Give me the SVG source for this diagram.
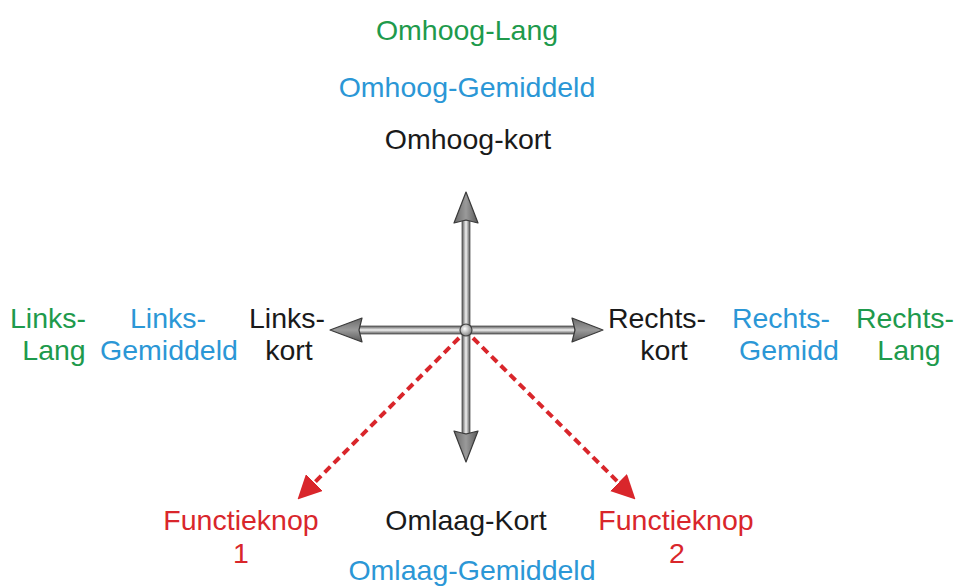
<svg xmlns="http://www.w3.org/2000/svg" width="964" height="587" viewBox="0 0 964 587">
<defs>
<style>
text{font-family:"Liberation Sans",Arial,sans-serif;font-size:28.5px;text-anchor:middle}
.g{fill:#1e9a4c}.b{fill:#2b97d6}.k{fill:#1a1a1a}.r{fill:#d9262b}
.head{stroke:#3a3a3a;stroke-width:1.2;stroke-linejoin:round}
.dash{stroke:#d9262b;stroke-width:4;stroke-dasharray:8 5;fill:none}
</style>
<linearGradient id="gv" x1="0" y1="0" x2="1" y2="0"><stop offset="0" stop-color="#555"/><stop offset="0.5" stop-color="#f2f2f2"/><stop offset="1" stop-color="#555"/></linearGradient>
<linearGradient id="gh" x1="0" y1="0" x2="0" y2="1"><stop offset="0" stop-color="#555"/><stop offset="0.5" stop-color="#f2f2f2"/><stop offset="1" stop-color="#555"/></linearGradient>
<linearGradient id="hv" x1="0" y1="0" x2="1" y2="0"><stop offset="0" stop-color="#6a6a6a"/><stop offset="0.5" stop-color="#9a9a9a"/><stop offset="1" stop-color="#5a5a5a"/></linearGradient>
<linearGradient id="hh" x1="0" y1="0" x2="0" y2="1"><stop offset="0" stop-color="#6a6a6a"/><stop offset="0.5" stop-color="#9a9a9a"/><stop offset="1" stop-color="#5a5a5a"/></linearGradient>
<radialGradient id="knob" cx="0.4" cy="0.4" r="0.6"><stop offset="0" stop-color="#fff"/><stop offset="1" stop-color="#888"/></radialGradient>
<marker id="ra" markerWidth="6" markerHeight="6" refX="3" refY="3" orient="auto" markerUnits="strokeWidth"><path d="M0,0 L6,3 L0,6 Z" fill="#d9262b"/></marker>
</defs>
<g id="connectors">
<rect x="462" y="220" width="8" height="214" fill="url(#gv)" stroke="#555" stroke-width="0.8"/>
<rect x="358" y="326" width="217" height="8" fill="url(#gh)" stroke="#555" stroke-width="0.8"/>
<polygon class="head" points="466,192 478,223 466,220 454,223" fill="url(#hv)"/>
<polygon class="head" points="466,462 478,431 466,434 454,431" fill="url(#hv)"/>
<polygon class="head" points="330,330 362,318 359,330 362,342" fill="url(#hh)"/>
<polygon class="head" points="603,330 572,318 575,330 572,342" fill="url(#hh)"/>
<circle cx="466" cy="330" r="6" fill="url(#knob)" stroke="#444" stroke-width="1.2"/>
<line class="dash" x1="459" y1="338" x2="306" y2="491" marker-end="url(#ra)"/>
<line class="dash" x1="473" y1="338" x2="627" y2="491" marker-end="url(#ra)"/>
</g>
<g id="omhoog-lang"><text class="g" x="467" y="40">Omhoog-Lang</text></g>
<g id="omhoog-gemiddeld"><text class="b" x="467" y="97">Omhoog-Gemiddeld</text></g>
<g id="omhoog-kort"><text class="k" x="468" y="149">Omhoog-kort</text></g>
<g id="links-lang"><text class="g"><tspan x="48" y="328">Links-</tspan><tspan x="54" y="360">Lang</tspan></text></g>
<g id="links-gemiddeld"><text class="b"><tspan x="168" y="328">Links-</tspan><tspan x="169" y="360">Gemiddeld</tspan></text></g>
<g id="links-kort"><text class="k"><tspan x="287" y="328">Links-</tspan><tspan x="289" y="360">kort</tspan></text></g>
<g id="rechts-kort"><text class="k"><tspan x="657" y="328">Rechts-</tspan><tspan x="664" y="360">kort</tspan></text></g>
<g id="rechts-gemidd"><text class="b"><tspan x="781" y="328">Rechts-</tspan><tspan x="789" y="360">Gemidd</tspan></text></g>
<g id="rechts-lang"><text class="g"><tspan x="905" y="328">Rechts-</tspan><tspan x="909" y="360">Lang</tspan></text></g>
<g id="functieknop-1"><text class="r"><tspan x="241" y="530">Functieknop</tspan><tspan x="241" y="563">1</tspan></text></g>
<g id="omlaag-kort"><text class="k" x="466" y="530">Omlaag-Kort</text></g>
<g id="functieknop-2"><text class="r"><tspan x="676" y="530">Functieknop</tspan><tspan x="677" y="563">2</tspan></text></g>
<g id="omlaag-gemiddeld"><text class="b" x="472" y="580">Omlaag-Gemiddeld</text></g>
</svg>
